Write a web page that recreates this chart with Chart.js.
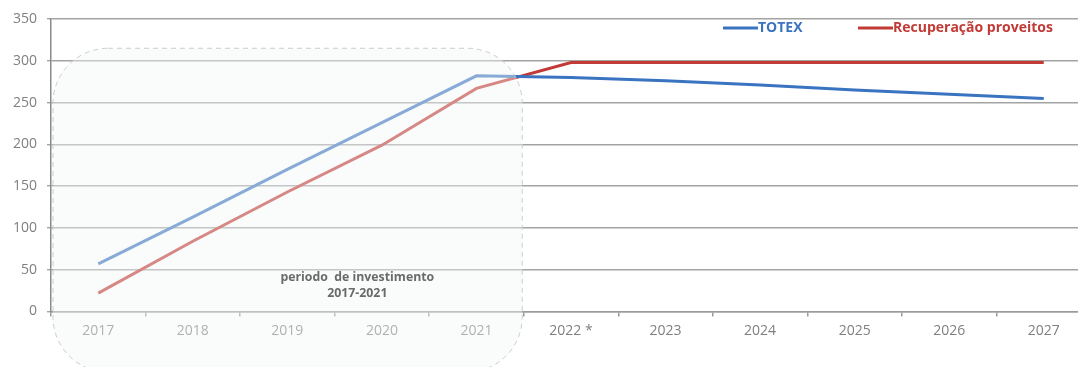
<!DOCTYPE html>
<html lang="pt">
<head>
  <meta charset="UTF-8" />
  <title>TOTEX vs Recuperação proveitos</title>
  <script src="https://cdn.jsdelivr.net/npm/chart.js"></script>
  <style>
    html, body {
      margin: 0;
      padding: 0;
      background: #ffffff;
      overflow: hidden;
    }
    #wrap {
      position: relative;
      width: 1091px;
      height: 367px;
    }
  </style>
</head>
<body>
  <div id="wrap"><canvas id="chart"></canvas></div>

  <script>
    const anos = ['2017', '2018', '2019', '2020', '2021', '2022 *', '2023', '2024', '2025', '2026', '2027'];
    const totex = [57, 113, 170, 226, 282, 280, 276, 271, 265, 260, 255];
    const recuperacao = [22, 84, 143, 199, 267, 298, 298, 298, 298, 298, 298];
    const eixoY = [0, 50, 100, 150, 200, 250, 300, 350];

    const AZUL = '#3a74c1';
    const VERMELHO = '#c23a35';
    const CINZA = '#7f7f7f';
    const FONTE = "'Open Sans', sans-serif";

    // caixa arredondada do período de investimento, desenhada por cima de tudo
    const caixaInvestimento = {
      id: 'caixaInvestimento',
      afterDatasetsDraw(chart) {
        const { ctx, scales: { x, y } } = chart;
        const left = x.left + 2;
        const right = (x.getPixelForValue(4) + x.getPixelForValue(5)) / 2 - 1.5;
        const top = y.getPixelForValue(315);
        const bottom = 372;
        const r = 55;

        ctx.save();
        ctx.beginPath();
        ctx.roundRect(left, top, right - left, bottom - top, r);
        ctx.fillStyle = 'rgba(243, 245, 245, 0.42)';
        ctx.fill();
        ctx.setLineDash([5, 4]);
        ctx.lineWidth = 1;
        ctx.strokeStyle = '#cccccc';
        ctx.stroke();
        ctx.setLineDash([]);

        const p2 = x.getPixelForValue(2);
        const p3 = x.getPixelForValue(3);
        const cx = p2 + 0.74 * (p3 - p2);
        ctx.beginPath();
        ctx.rect(left, top, right - left, y.getPixelForValue(14) - top);
        ctx.clip();
        ctx.fillStyle = '#6a6a6a';
        ctx.font = 'bold 12.3px ' + FONTE;
        ctx.textAlign = 'center';
        ctx.textBaseline = 'middle';
        ctx.fillText('periodo  de investimento', cx, y.getPixelForValue(41));
        ctx.fillText('2017-2021', cx, y.getPixelForValue(21));
        ctx.restore();
      }
    };

    // legenda dentro da área do gráfico, em cima à direita
    const legendaTopo = {
      id: 'legendaTopo',
      afterDraw(chart) {
        const { ctx, chartArea } = chart;
        const yy = 28;
        const itens = [
          { x: chartArea.right - 368, ds: chart.data.datasets[0] },
          { x: chartArea.right - 233, ds: chart.data.datasets[1] }
        ];
        ctx.save();
        ctx.font = 'bold 14px ' + FONTE;
        ctx.textBaseline = 'middle';
        itens.forEach(it => {
          ctx.strokeStyle = it.ds.borderColor;
          ctx.lineWidth = 3;
          ctx.beginPath();
          ctx.moveTo(it.x, yy);
          ctx.lineTo(it.x + 35, yy);
          ctx.stroke();
          ctx.fillStyle = it.ds.borderColor;
          ctx.fillText(it.ds.label, it.x + 35, yy);
        });
        ctx.restore();
      }
    };

    new Chart(document.getElementById('chart'), {
      type: 'line',
      data: {
        labels: anos,
        datasets: [
          {
            label: 'TOTEX',
            data: totex,
            borderColor: AZUL,
            borderWidth: 3,
            pointRadius: 0,
            tension: 0
          },
          {
            label: 'Recuperação proveitos',
            data: recuperacao,
            borderColor: VERMELHO,
            borderWidth: 3,
            pointRadius: 0,
            tension: 0
          }
        ]
      },
      options: {
        responsive: true,
        maintainAspectRatio: false,
        animation: false,
        layout: { padding: { top: 19, left: 0, right: 0, bottom: 0 } },
        plugins: {
          legend: { display: false },
          tooltip: { enabled: false }
        },
        scales: {
          x: {
            offset: true,
            grid: {
              offset: true,
              drawOnChartArea: false,
              drawTicks: true,
              tickLength: 5,
              color: '#9a9a9a',
              lineWidth: 1.5
            },
            border: { display: true, color: '#9a9a9a', width: 1.5 },
            ticks: {
              color: CINZA,
              font: { family: FONTE, size: 14 },
              padding: 6,
              maxRotation: 0,
              autoSkip: false
            },
            afterFit(scale) { scale.height = 55.5; }
          },
          y: {
            min: 0,
            max: 350,
            afterBuildTicks(scale) {
              scale.ticks = eixoY.map(v => ({ value: v }));
            },
            grid: {
              color: '#a3a3a3',
              lineWidth: 1.4,
              drawTicks: true,
              tickLength: 4
            },
            border: { display: true, color: '#8a8a8a', width: 1.5 },
            ticks: {
              color: CINZA,
              font: { family: FONTE, size: 14 },
              padding: 10
            },
            afterFit(scale) { scale.width = 51; }
          }
        }
      },
      plugins: [caixaInvestimento, legendaTopo]
    });
  </script>
</body>
</html>
